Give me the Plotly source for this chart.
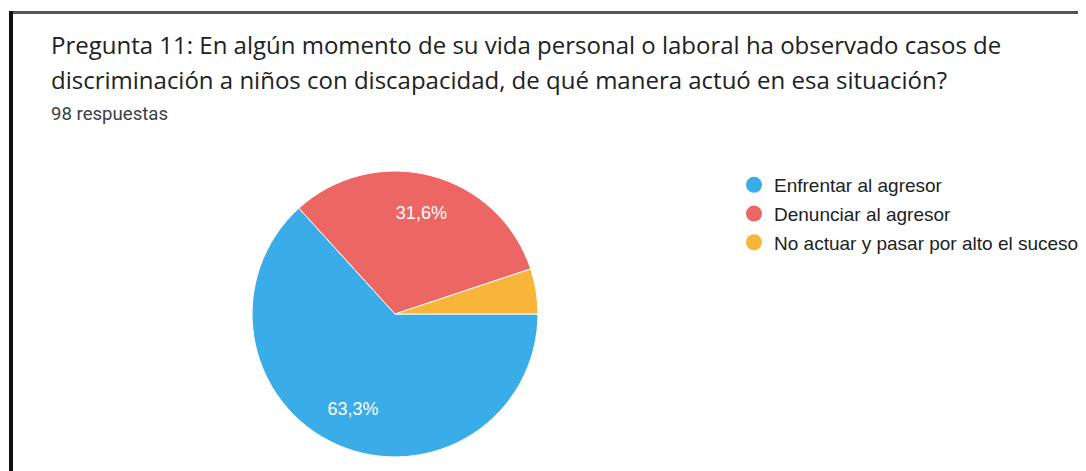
import plotly.graph_objects as go

# Datos de la encuesta (98 respuestas)
categorias = ["Enfrentar al agresor", "Denunciar al agresor", "No actuar y pasar por alto el suceso"]
respuestas = [62, 31, 5]
colores = ["#3aade8", "#ec6663", "#f9b43a"]
etiquetas = ["%{percent:.1%}", "%{percent:.1%}", ""]

titulo_1 = "Pregunta 11: En algún momento de su vida personal o laboral ha observado casos de"
titulo_2 = "discriminación a niños con discapacidad, de qué manera actuó en esa situación?"
subtitulo = "98 respuestas"

W, H = 1086, 471
OFF = 8  # margen del body en la pagina html
dominio = dict(x=[0.2247, 0.488], y=[0.0467, 0.654])

fig = go.Figure()

# tarta con colores
fig.add_trace(go.Pie(
    labels=categorias,
    values=respuestas,
    marker=dict(colors=colores, line=dict(color="white", width=1)),
    textinfo="none",
    sort=False,
    direction="clockwise",
    rotation=90,
    showlegend=False,
    hoverinfo="label+percent",
    domain=dominio,
))

# misma tarta transparente, solo para colocar los porcentajes mas afuera
fig.add_trace(go.Pie(
    labels=categorias,
    values=respuestas,
    hole=0.455,
    marker=dict(colors=["rgba(0,0,0,0)"] * 3, line=dict(width=0)),
    texttemplate=etiquetas,
    textposition="inside",
    insidetextorientation="horizontal",
    textfont=dict(color="white", size=18, family="Liberation Sans, Arial"),
    sort=False,
    direction="clockwise",
    rotation=90,
    showlegend=False,
    hoverinfo="skip",
    domain=dominio,
))

# leyenda con circulos
for i, cat in enumerate(categorias):
    fig.add_trace(go.Scatter(
        x=[None], y=[None], mode="markers", name=cat,
        legendgroup=str(i),
        marker=dict(symbol="circle", size=17, color=colores[i]),
    ))

fig.update_xaxes(visible=False)
fig.update_yaxes(visible=False)

anots = [
    dict(text=titulo_1, y=45, size=24, color="#202124", fam="Open Sans"),
    dict(text=titulo_2, y=80, size=24, color="#202124", fam="Open Sans"),
    dict(text=subtitulo, y=114, size=18.6, color="#3c4043", fam="Roboto"),
]
for a in anots:
    fig.add_annotation(
        x=(49 - OFF) / W, y=1 - (a["y"] - OFF) / H, xref="paper", yref="paper",
        xanchor="left", yanchor="middle", showarrow=False, text=a["text"],
        font=dict(family=a["fam"], size=a["size"], color=a["color"]),
    )

# marco escaneado
fig.add_shape(type="line", xref="paper", yref="paper", x0=2 / W, x1=1, y0=1 - 4.5 / H, y1=1 - 4.5 / H,
              line=dict(color="#555555", width=3))
fig.add_shape(type="line", xref="paper", yref="paper", x0=3 / W, x1=3 / W, y0=0, y1=1 - 3 / H,
              line=dict(color="#111111", width=4))

fig.update_layout(
    width=W, height=H,
    separators=",.",
    margin=dict(l=0, r=0, t=0, b=0),
    paper_bgcolor="white", plot_bgcolor="white",
    legend=dict(
        x=726 / W, y=1 - 158 / H, xanchor="left", yanchor="top",
        font=dict(family="Liberation Sans, Arial", size=19, color="#202124"),
        traceorder="grouped", tracegroupgap=1, itemsizing="trace",
    ),
)

fig.write_html("out.html")
